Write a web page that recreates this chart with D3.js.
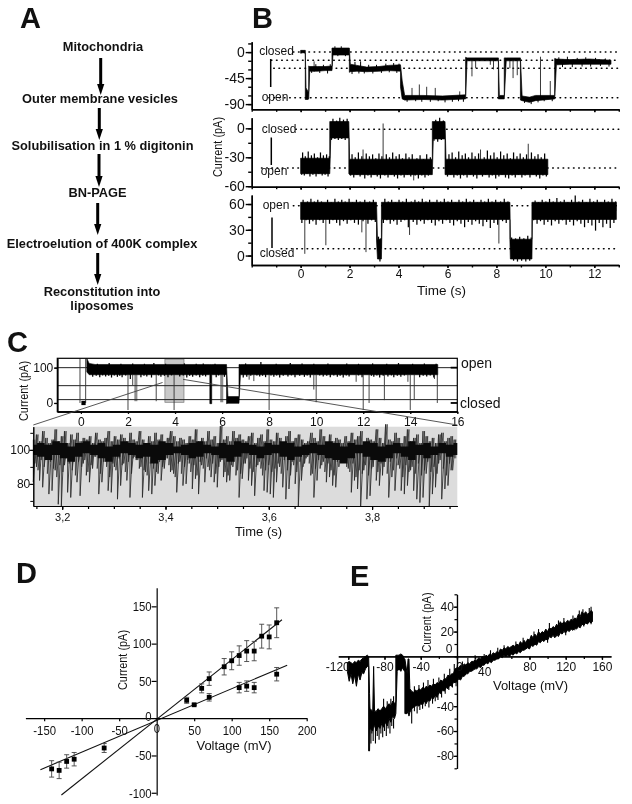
<!DOCTYPE html>
<html>
<head>
<meta charset="utf-8">
<script src="https://cdn.jsdelivr.net/npm/d3@7/dist/d3.min.js"></script>
<style>
  html, body { margin: 0; padding: 0; background: #fff; }
  svg { display: block; filter: blur(0.3px); }
  text { font-family: "Liberation Sans", Arial, sans-serif; fill: #111; }
</style>
</head>
<body>
<script>
// panel A
const steps = ["Mitochondria", "Outer membrane vesicles", "Solubilisation in 1 % digitonin", "BN-PAGE", "Electroelution of 400K complex", "Reconstitution into", "liposomes"];

// panel B, traces are [time, low, high], fuzz is the noise tips as [time, tip]
const b1Trace = [[0,-2,3],[0.1,-1,3],[0.19,-2,3],[0.19,-82,3],[0.22,-82,-62],[0.3,-82,-68],[0.33,-81,-68],[0.33,-81,-24],[0.37,-33,-25],[0.7,-33,-25],[1,-32,-25],[1.28,-32,-24],[1.28,-32,7],[1.32,-5,7],[1.99,-5,7],[1.99,-35,7],[2.03,-34,-21],[2.3,-33,-23],[2.7,-34,-26],[3.2,-33,-25],[3.6,-32,-23],[4.08,-33,-22],[4.08,-60,-22],[4.15,-81,-50],[4.25,-83,-75],[5,-82,-75],[5.8,-83,-76],[6.74,-81,-74],[6.74,-81,-9],[6.8,-15,-10],[8.08,-15,-10],[8.08,-81,-10],[8.12,-81,-75],[8.32,-81,-75],[8.32,-81,-10],[8.4,-15,-10],[8.98,-15,-10],[8.98,-83,-10],[9.05,-84,-76],[9.35,-87,-78],[9.6,-84,-75],[10.38,-81,-75],[10.38,-81,-11],[10.45,-22,-12],[11,-21,-13],[11.8,-21,-12],[12.68,-21,-14]];
const b1Spikes = [[0.55,-34,-16],[4.55,-80,-62],[4.85,-80,-56],[5.15,-80,-60],[5.5,-80,-62],[6.5,-80,-68],[7,-14,-42],[7.15,-14,-28],[7.75,-14,-22],[7.88,-14,-30],[8.55,-13,-28],[8.68,-13,-45],[8.85,-13,-40],[9.8,-80,-8],[10.2,-80,-50]];
const b1Fuzz = [[0.45,-36],[0.62,-21],[0.78,-36],[0.93,-22],[1.1,-37],[1.21,-21],[1.4,10],[1.52,-7],[1.66,10],[1.83,-7],[2.1,-38],[2.22,-17],[2.38,-37],[2.45,-16],[2.6,-37],[2.78,-22],[2.95,-37],[3.1,-22],[3.3,-36],[3.48,-20],[3.62,-35],[3.8,-19],[3.93,-36],[4.02,-20],[4.35,-86],[4.7,-85],[4.95,-86],[5.3,-86],[5.62,-85],[5.9,-87],[6.2,-86],[6.45,-85],[6.65,-86],[9.15,-88],[9.42,-90],[9.7,-87],[9.95,-85],[10.28,-85],[10.55,-9],[10.7,-26],[10.9,-8],[11.1,-26],[11.3,-10],[11.5,-25],[11.65,-9],[11.85,-25],[12.05,-10],[12.25,-24],[12.45,-11],[12.6,-25]];
const b1Levels = [[1.3,-28],[2,1],[4.1,-28],[6.75,-79],[10.4,-80],[13,-17]];
const b1Dots = [0, -14, -28, -79];

const b2Trace = [[0,-47,-31],[1.19,-47,-31],[1.19,-47,7],[1.23,-10,7],[1.97,-10,7],[1.97,-47,7],[2,-48,-32],[5.38,-48,-32],[5.38,-48,7],[5.42,-11,7],[5.9,-11,7],[5.9,-48,7],[5.94,-48,-32],[10.1,-48,-32]];
const b2Spikes = [[3.37,-35,5],[9.3,-40,-16],[2.55,-40,-22],[7.35,-40,-22],[4.62,-44,-54]];
const b2OpenFuzz = [[0.04,-48],[0.08,-25],[0.15,-49],[0.19,-29],[0.26,-47],[0.31,-24],[0.38,-50],[0.44,-28],[0.5,-48],[0.56,-26],[0.63,-50],[0.69,-30],[0.74,-47],[0.81,-25],[0.88,-49],[0.93,-28],[1,-48],[1.06,-27],[1.12,-50],[1.17,-29],[2.04,-49],[2.1,-27],[2.17,-51],[2.23,-30],[2.3,-48],[2.36,-25],[2.43,-50],[2.5,-29],[2.62,-52],[2.68,-26],[2.75,-49],[2.81,-29],[2.88,-51],[2.94,-27],[3,-48],[3.07,-31],[3.13,-50],[3.2,-26],[3.26,-52],[3.32,-29],[3.44,-49],[3.5,-27],[3.57,-51],[3.63,-30],[3.7,-48],[3.76,-25],[3.83,-50],[3.9,-29],[3.96,-52],[4.03,-27],[4.1,-49],[4.16,-31],[4.23,-51],[4.3,-26],[4.36,-48],[4.43,-30],[4.5,-50],[4.56,-27],[4.68,-49],[4.75,-31],[4.81,-52],[4.88,-28],[4.95,-49],[5.02,-32],[5.08,-51],[5.15,-27],[5.22,-49],[5.3,-30],[6,-50],[6.06,-27],[6.13,-48],[6.19,-25],[6.26,-51],[6.33,-30],[6.4,-49],[6.46,-24],[6.53,-52],[6.6,-28],[6.66,-49],[6.73,-26],[6.8,-51],[6.86,-30],[6.93,-48],[7,-25],[7.06,-50],[7.13,-29],[7.2,-52],[7.27,-26],[7.43,-50],[7.5,-30],[7.56,-48],[7.63,-23],[7.7,-51],[7.76,-28],[7.83,-49],[7.9,-25],[7.97,-52],[8.03,-30],[8.1,-50],[8.17,-24],[8.23,-48],[8.3,-28],[8.37,-51],[8.44,-26],[8.5,-52],[8.57,-31],[8.64,-49],[8.7,-25],[8.77,-51],[8.84,-29],[8.9,-48],[8.97,-26],[9.04,-51],[9.1,-30],[9.17,-49],[9.23,-27],[9.37,-51],[9.43,-25],[9.5,-48],[9.57,-29],[9.63,-50],[9.7,-27],[9.77,-52],[9.83,-30],[9.9,-49],[9.97,-26],[10.04,-50]];
const b2ClosedFuzz = [[1.26,-12],[1.32,10],[1.4,-11],[1.47,8],[1.54,-12],[1.6,11],[1.68,-11],[1.75,9],[1.82,-12],[1.9,10],[5.45,-13],[5.52,9],[5.6,-14],[5.68,11],[5.75,-12],[5.83,8]];
const b2Dots = [-1, -41];

const b3Trace = [[0,42,62],[3.1,42,62],[3.1,18,62],[3.14,-4,19],[3.3,-4,19],[3.3,-4,62],[3.33,42,62],[8.55,42,62],[8.55,19,62],[8.57,-4,19],[9.45,-4,19],[9.45,-4,62],[9.47,42,62],[12.9,42,62]];
const b3Spikes = [[0.17,50,2],[1.03,50,12],[2.5,50,27],[2.67,50,4],[4.45,50,24],[8.1,50,14]];
const b3OpenFuzz = [[0.05,38],[0.1,65],[0.22,41],[0.28,63],[0.36,37],[0.42,66],[0.5,40],[0.56,63],[0.63,36],[0.7,65],[0.78,41],[0.85,63],[0.92,38],[1.1,65],[1.18,37],[1.25,62],[1.32,41],[1.4,66],[1.47,38],[1.54,63],[1.6,35],[1.68,65],[1.75,40],[1.82,63],[1.9,37],[1.98,66],[2.05,41],[2.12,62],[2.2,38],[2.28,65],[2.36,36],[2.43,63],[2.55,40],[2.62,65],[2.75,37],[2.82,63],[2.9,41],[2.97,65],[3.05,39],[3.38,38],[3.44,66],[3.52,41],[3.58,63],[3.66,37],[3.72,65],[3.8,40],[3.87,62],[3.94,36],[4.02,65],[4.1,39],[4.17,63],[4.25,41],[4.32,66],[4.4,33],[4.52,63],[4.6,39],[4.67,65],[4.75,36],[4.82,63],[4.9,40],[4.97,66],[5.05,37],[5.12,63],[5.2,41],[5.27,65],[5.35,38],[5.42,62],[5.5,35],[5.57,65],[5.65,40],[5.72,63],[5.8,37],[5.87,66],[5.95,41],[6.02,63],[6.1,38],[6.17,65],[6.25,35],[6.32,62],[6.4,40],[6.47,65],[6.55,37],[6.62,63],[6.7,33],[6.77,66],[6.85,39],[6.92,63],[7,36],[7.07,65],[7.15,40],[7.22,62],[7.3,37],[7.37,65],[7.45,34],[7.52,63],[7.6,39],[7.67,66],[7.75,32],[7.82,63],[7.9,38],[7.97,65],[8.05,36],[8.17,63],[8.25,40],[8.32,66],[8.4,38],[8.47,63],[9.52,41],[9.58,64],[9.66,37],[9.72,62],[9.8,40],[9.87,65],[9.95,36],[10.02,63],[10.1,39],[10.17,66],[10.25,35],[10.32,63],[10.4,40],[10.47,67],[10.55,37],[10.62,63],[10.7,41],[10.77,65],[10.85,36],[10.92,62],[11,39],[11.07,65],[11.15,35],[11.22,70],[11.3,40],[11.37,63],[11.45,37],[11.52,65],[11.6,33],[11.67,62],[11.75,38],[11.82,66],[11.9,35],[11.97,63],[12.05,29],[12.12,65],[12.2,38],[12.27,62],[12.35,33],[12.42,65],[12.5,37],[12.57,63],[12.65,32],[12.72,66],[12.8,38],[12.87,63]];
const b3ClosedFuzz = [[3.18,22],[3.24,-7],[3.28,20],[8.62,21],[8.7,-6],[8.78,20],[8.86,-7],[8.95,22],[9.03,-6],[9.12,20],[9.2,-7],[9.28,23],[9.36,-6],[9.42,21]];
const b3Dots = [58, 8];

// panel C, upper overview
const cTopTrace = [[0.25,88,126],[0.35,80,112],[0.6,80,109],[5.48,80,109],[5.48,-2,109],[5.56,-2,109],[5.56,80,109],[6.19,80,109],[6.19,-2,109],[6.25,-1,18],[6.72,-1,18],[6.72,-1,109],[6.78,80,109],[15.17,80,109]];
const cTopFuzz = [[0.5,74],[0.65,77],[0.8,73],[0.92,78],[1.05,75],[1.18,77],[1.3,72],[1.42,78],[1.55,74],[1.65,77],[1.75,73],[1.9,78],[2.1,68],[2.55,73],[2.68,77],[2.8,75],[3,72],[3.3,78],[3.4,74],[3.55,77],[3.7,73],[3.85,78],[4.2,75],[4.35,78],[4.5,72],[4.62,77],[4.75,74],[4.9,78],[5.05,73],[5.18,77],[5.3,75],[5.75,73],[5.85,78],[6.1,74],[6.9,72],[7.05,74],[7.22,77],[7.48,78],[7.6,75],[7.72,77],[7.85,73],[8.08,78],[8.2,74],[8.32,78],[8.45,72],[8.6,77],[8.8,75],[8.95,78],[9.1,73],[9.3,77],[9.5,74],[9.62,78],[9.75,72],[10.15,78],[10.3,75],[10.45,77],[10.6,73],[10.75,78],[10.9,74],[11.02,77],[11.15,72],[11.28,78],[11.4,75],[11.8,78],[11.95,73],[12.35,77],[12.45,74],[12.58,78],[12.7,72],[12.85,77],[13.05,75],[13.2,78],[13.3,73],[13.45,77],[13.6,74],[13.75,78],[14.4,73],[14.55,77],[14.7,75],[14.85,78],[15,72]];
const cTopTips = [[0.7,111],[1.2,113],[1.7,111],[2.2,112],[2.7,111],[3.1,113],[3.6,111],[4.4,112],[4.9,111],[5.2,112],[5.7,111],[7,112],[7.65,116],[8.3,111],[8.9,113],[9.4,112],[9.9,111],[10.5,112],[11.3,112],[11.8,111],[12.4,112],[13,111],[13.5,113],[14.1,111],[14.6,112],[15.1,111]];
const cTopSpikes = [[-0.04,126,0],[0.2,126,0],[2,80,-20],[2.2,80,50],[3.2,80,5],[3.96,80,-20],[7.15,80,66],[7.35,80,62],[8,80,-20],[9.9,80,38],[10,80,2],[11.7,80,60],[12,80,-20],[12.25,80,0],[12.9,80,8],[13.9,80,60],[14,80,-20],[14.17,80,10],[15.03,80,68],[15.15,80,0]];
const cTopBlock = [[0.02,0.2,-6,6]];
const cGreyBars = [[2.27,2.4,80,5],[5.92,6.05,80,2]];
const cWindow = [3.57, 4.38];
const cGridLines = [100, 49, 9.5];

// panel C, zoomed trace, lower and upper ends of the current in time order
const cLows = [81,90,82,78,94,74,76,88,68,67,91,75,72,93,81,73,92,85,81,89,96,74,81,93,76,75,90,71,79,92,82,72,95,94,89,72,87,76,74,79,86,82,89,95,87,86,75,93,79,80,92,77,83,74,91,81,90,84,81,78,93,84,81,82,90,85,72,83,92,82,79,73,91,89,76,75,74,
  72,81,90,78,71,77,93,80,67,82,92,96,85,72,82,89,93,81,84,79,78,90,93,97,89,75,82,77,67,88,71,73,90,82,79,85,93,72,84,76,91,76,74,79,88,76,71,69,72,86,67,74,78,92,71,77,79,88,95];
// the shallow events that sit between the deep ones
const cMids = [92,88,94,90,86,93,89,84,91,87,95,92,88,85,93,90,94,87,91,96,89,86,93,90,84,92,88,95,91,87,93,86,96,94,90,88,85,92,89,87,93,90,95,91,88,84,92,86,90,94,87,91,85,93,89,95,88,92,86,90,94,87,85,91,93,88,86,92,95,89,87,90,93,85,88,91,87,
  89,92,86,94,88,85,91,87,93,90,95,92,86,89,94,91,87,92,88,85,93,96,94,90,87,92,84,88,86,91,85,89,94,87,92,90,86,93,88,95,89,84,91,87,90,86,92,85,88,93,87,90,86,94,89,85,92,88,95];
const cHighs = [106,109,105,111,107,104,110,106,112,105,108,111,106,104,109,106,110,105,107,112,106,108,104,110,106,109,105,107,111,105,108,106,104,109,107,105,110,106,108,105,111,106,104,108,105,107,110,106,109,104,107,105,111,108,105,107,106,110,104,108,106,112,105,107,109,105,111,106,108,104,107,114,106,108,105,111,107,104,109,106,105,108,110,106,104,107,109,105,112,106,
  108,105,110,107,104,108,106,111,105,107,109,106,104,108,105,110,107,105,112,106,108,104,109,105,107,113,106,104,108,105,110,106,105,108,111,104,107,106,109,105,112,107,104,115,106,108,105,110,107,104,108,106,112,105,107,109,104,111,106,108,105,107,104,109,106,110,105,107,108,106,111];
// solid black centre of the zoomed trace
const cCoreLo = [97,96,94,97,95,93,96,98,97,95,93,96,98,97,95,96,92,94,97,98,97,95,96,98,97,95,93,96,98,97,95,97,98,96,94,96,97,98,97,95,94,92,95,98,96,94,93,95,98,96,94,97,95,97,98,96,97];
const cCoreHi = [103,104,103,105,104,102,104,105,103,104,102,103,105,104,103,104,103,105,104,102,103,104,105,103,102,104,103,105,104,103,102,104,103,105,104,102,103,104,103,105,104,102,104,103,105,104,102,103,104,102,105,103,104,102,104,103,104];

// panel D, mean and error of the two conductance groups
const dUpperV = [40, 60, 70, 90, 100, 110, 120, 130, 140, 150, 160];
const dUpperI = [24, 40, 53, 69, 77, 84, 90, 90, 110, 109, 128];
const dUpperErr = [4, 6, 9, 11, 12, 13, 14, 13, 16, 16, 20];
const dLowerV = [-140, -130, -120, -110, -70, 50, 70, 110, 120, 130, 160];
const dLowerI = [-68, -70, -58, -55, -40, 18, 28, 41, 43, 41, 59];
const dLowerErr = [11, 11, 9, 9, 6, 1, 5, 7, 7, 7, 9];
const dFitUpper = [[-127, -103], [167, 132]];
const dFitLower = [[-155, -69], [174, 71]];

// panel E, voltage ramp as [voltage, low, high], spikes as [voltage, base, tip]
const eTrace = [[-121,-12,-5],[-119,-20,-4],[-117,-14,-5],[-115,-22,-6],[-113,-15,-4],[-111,-24,-5],[-109,-14,-3],[-107,-19,-4],[-105,-13,-2],[-103,-14,-1],[-101,-10,0],[-99,-8,1],[-97.5,-8,0],[-97.5,-76,0],[-96.5,-76,-30],[-96,-58,-42],[-93,-60,-44],[-92,-55,-8],[-91,-56,-44],[-89,-60,-44],[-87,-56,-42],[-85,-58,-44],[-83,-54,-42],[-81,-57,-40],[-79,-53,-42],[-77,-56,-40],[-75,-50,-38],[-73,-53,-40],[-71,-48,-36],[-69,-50,-38],[-67.5,-46,-36],[-67.5,-46,1],[-66,-12,1],[-64,-10,1],[-62,-12,2],[-60,-9,1],[-58,-12,-2],[-57.5,-12,-2],[-57.5,-46,-2],[-55,-46,-14],[-54,-44,-2],[-53,-48,-2],[-52,-45,-26],[-50,-42,-28],[-48,-41,-29],[-46,-40,-27],[-44,-39,-28],[-42,-40,-26],[-40,-38,-27],[-38,-39,-25],[-36,-36,-26],[-34,-38,-24],[-32,-35,-25],[-30,-36,-23],[-28,-33,-24],[-26,-34,-22],[-24,-31,-23],[-22,-33,-21],[-20,-29,-22],[-18,-30,-19],[-16,-27,-20],[-14,-28,-18],[-12,-25,-18],[-10,-26,-15],[-8,-23,-16],[-6,-24,-14],[-4,-21,-14],[-2,-21,-10],[0,-20,-9],[2,-18,-9],[4,-19,-7],[6,-16,-8],[8,-16,-6],[10,-14,-7],[12,-14,-5],[14,-12,-6],[16,-12,-4],[18,-11,-4],[20,-10,-3],[22,-10,-3],[24,-8,-1],[26,-9,-2],[28,-7,0],[30,-7,-1],[32,-5,1],[34,-6,0],[36,-4,2],[38,-5,1],[40,-3,3],[42,-3,2],[44,-2,4],[46,-2,3],[48,0,6],[50,-1,5],[52,1,7],[54,0,6],[56,1,8],[58,0,7],[60,2,8],[62,1,9],[64,3,8],[66,2,10],[68,4,9],[70,3,12],[72,5,10],[74,5,13],[76,6,11],[78,7,14],[80,6,13],[82,9,17],[84,8,15],[86,10,18],[88,9,16],[90,12,20],[92,11,18],[94,13,20],[96,12,19],[98,14,22],[100,13,20],[102,16,23],[104,15,22],[106,17,24],[108,15,23],[110,18,26],[112,16,24],[114,19,28],[116,18,26],[118,20,28],[120,19,27],[122,21,29],[124,20,28],[126,22,30],[128,21,29],[130,23,31],[132,22,30],[134,24,34],[136,23,32],[138,26,36],[140,25,34],[142,27,36],[144,26,34],[146,28,35],[148,27,37],[149.5,28,36]];
const eSpikes = [[-95,-50,-70],[-94,-50,-62],[-92.5,-50,-68],[-90,-50,-70],[-88,-50,-64],[-86,-50,-67],[-84,-50,-62],[-82,-50,-65],[-80,-50,-60],[-78,-50,-64],[-76,-50,-58],[-74,-50,-62],[-72,-50,-56],[-70,-50,-58],[-81,-45,-34],[-77,-45,-36],[-73,-45,-34],[-70,-45,-32],[-50,-36,-54],[-47,-36,-44],[-44,-34,-46],[-41,-34,-43],[-38,-32,-42],[-35,-32,-40],[-31,-30,-41],[-27,-28,-38],[-24,-28,-36],[-21,-26,-35],[-17,-24,-33],[-13,-22,-30],[-9,-20,-27],[-5,-18,-25],[-1,-15,-24],[-47,-36,-24],[-42,-32,-23],[-37,-30,-21],[-32,-30,-19],[-26,-28,-18],[-20,-26,-17],[-14,-22,-14],[-8,-20,-10],[-3,-15,-6],[6,-11,-4],[12,-9,-1],[20,-6,1],[30,-3,2],[37,-1,5],[45,1,7],[52,4,9],[65,6,12],[73,8,15],[85,13,20],[90,16,22],[102,19,27],[112,20,29],[118,24,31],[128,25,33],[135,28,37],[139,30,38],[146,31,39],[148,32,40],[100,16,11],[110,22,16],[120,23,17],[130,27,21],[140,30,24],[148,32,26]];

const W = 632, H = 804;
const svg = d3.select("body").append("svg").attr("width", W).attr("height", H);

// the reference uses a condensed sans, squeeze the glyphs to get it
function squeeze(sel, k) {
    sel.each(function () {
        d3.select(this).attr("textLength", this.getComputedTextLength() * k).attr("lengthAdjust", "spacingAndGlyphs");
    });
}

function label(g, x, y, txt, size, opts = {}) {
    const t = g.append("text").attr("x", x).attr("y", y).text(txt)
        .attr("font-size", size)
        .attr("text-anchor", opts.anchor || "middle")
        .attr("dominant-baseline", "middle")
        .attr("font-weight", opts.bold ? "bold" : null)
        .attr("transform", opts.rotate ? "rotate(-90 " + x + " " + y + ")" : null);
    if (opts.narrow) squeeze(t, 0.84);
    return t;
}

function panelLetter(txt, x, y) {
    svg.append("text").attr("x", x).attr("y", y).text(txt)
        .attr("font-size", 29).attr("font-weight", "bold");
}

function styleAxis(g, w, size, narrow) {
    g.selectAll("path, line").attr("stroke", "#000").attr("stroke-width", w);
    const t = g.selectAll("text").attr("font-size", size).attr("fill", "#111")
        .style("font-family", '"Liberation Sans", sans-serif');
    if (narrow) squeeze(t, 0.84);
    return g;
}

// draws an axis with long labelled ticks and a second pass of short ticks
function addAxis(g, axisFn, scale, at, major, minor, lenMajor, lenMinor, w, size) {
    const a = g.append("g").attr("transform", at);
    a.call(axisFn(scale).tickValues(minor).tickSize(lenMinor).tickSizeOuter(0).tickFormat(""));
    styleAxis(a, w, size);
    const b = g.append("g").attr("transform", at);
    b.call(axisFn(scale).tickValues(major).tickSize(lenMajor).tickSizeOuter(0).tickFormat(d => String(d)));
    return styleAxis(b, w, size);
}

function drawTrace(g, rows, x, y, sw) {
    const area = d3.area().x(d => x(d[0])).y0(d => y(d[1])).y1(d => y(d[2]));
    g.append("path").datum(rows).attr("d", area)
        .attr("fill", "#000").attr("stroke", "#000").attr("stroke-width", sw || 0.7);
}

function drawSpikes(g, spikes, x, y, colour, sw) {
    g.selectAll(null).data(spikes).join("line")
        .attr("x1", d => x(d[0])).attr("x2", d => x(d[0]))
        .attr("y1", d => y(d[1])).attr("y2", d => y(d[2]))
        .attr("stroke", colour || "#222").attr("stroke-width", sw || 0.9);
}

// noise tips grow out of the level they belong to
function drawFuzz(g, tips, base, x, y) {
    drawSpikes(g, tips.map(d => [d[0], base, d[1]]), x, y, "#000", 1.25);
}

function drawDots(g, levels, x, y, from) {
    g.selectAll(null).data(levels).join("line")
        .attr("x1", (d, i) => x(from[i])).attr("x2", x(13))
        .attr("y1", d => y(d)).attr("y2", d => y(d))
        .attr("stroke", "#000").attr("stroke-width", 1.5)
        .attr("stroke-linecap", "round").attr("stroke-dasharray", "0.6 4.6");
}

// ---- A ----
panelLetter("A", 20, 28);
const gA = svg.append("g");
const stepX = [103, 100, 102.5, 97.5, 102, 102, 102];
const stepY = [47.5, 100, 146.5, 194, 245, 293, 307];
steps.forEach((s, i) => label(gA, stepX[i], stepY[i], s, 12.8, {bold: true}));
const arrowX = [100.7, 99.3, 99, 97.7, 97.7];
const arrowY = [[58, 95], [108, 140], [154, 187], [203, 235], [253, 285]];
arrowX.forEach((ax, i) => {
    gA.append("line").attr("x1", ax).attr("x2", ax).attr("y1", arrowY[i][0]).attr("y2", arrowY[i][1] - 8)
        .attr("stroke", "#000").attr("stroke-width", 3);
    gA.append("path")
        .attr("d", d3.line()([[ax - 3.6, arrowY[i][1] - 11], [ax + 3.6, arrowY[i][1] - 11], [ax, arrowY[i][1]]]) + "Z")
        .attr("fill", "#000");
});

// ---- B ----
panelLetter("B", 252, 28);
const gB = svg.append("g");
const bX = d3.scaleLinear().domain([-2, 13]).range([251.7, 618.8]);
const bSeconds = d3.range(-2, 14);
const bLabelled = d3.range(0, 13, 2);

const bPanels = [
    {dom: [-99, 18], rng: [109.3, 41.7], ticks: [0, -45, -90], minor: d3.range(-90, 16, 15), rows: b1Trace, spikes: b1Spikes, dots: b1Dots, from: [-0.3, -1.2, -1.1, -1.3], showX: false},
    {dom: [-60.5, 11], rng: [186.7, 117.7], ticks: [0, -30, -60], minor: d3.range(-60, 11, 15), rows: b2Trace, spikes: b2Spikes, dots: b2Dots, from: [-0.2, -1.6], showX: false},
    {dom: [-11, 70.5], rng: [265, 195], ticks: [0, 30, 60], minor: d3.range(0, 70, 15), rows: b3Trace, spikes: b3Spikes, dots: b3Dots, from: [-0.3, -0.8], showX: true}
];
bPanels.forEach((p, n) => {
    const y = d3.scaleLinear().domain(p.dom).range(p.rng);
    drawDots(gB, p.dots, bX, y, p.from);
    drawSpikes(gB, p.spikes, bX, y);
    if (n === 0) {
        // panel one sits on several levels, each tip goes back to its own level
        const levelOf = t => b1Levels.find(l => t < l[0])[1];
        drawSpikes(gB, b1Fuzz.map(d => [d[0], levelOf(d[0]), d[1]]), bX, y, "#000", 1);
    }
    if (n === 1) { drawFuzz(gB, b2OpenFuzz, -40, bX, y); drawFuzz(gB, b2ClosedFuzz, -2, bX, y); }
    if (n === 2) { drawFuzz(gB, b3OpenFuzz, 52, bX, y); drawFuzz(gB, b3ClosedFuzz, 8, bX, y); }
    drawTrace(gB, p.rows, bX, y);
    const left = addAxis(gB, d3.axisLeft, y, "translate(251.7,0)", p.ticks, p.minor, 6, 3.5, 1.4, 14);
    left.selectAll("text").attr("x", -7);
    const bottom = addAxis(gB, d3.axisBottom, bX, "translate(0," + p.rng[0] + ")", bLabelled, bSeconds, 3, 2.5, 1.4, 12);
    if (!p.showX) bottom.selectAll("text").remove();
    else bottom.selectAll("text").attr("y", 4.5);
});
label(gB, 276.5, 51.5, "closed", 12);
label(gB, 275, 97.5, "open", 12);
label(gB, 279, 129.5, "closed", 12);
label(gB, 274, 172, "open", 12);
label(gB, 276, 205.5, "open", 12);
label(gB, 277, 254, "closed", 12);
[[270.7, 59, 87], [271.3, 137.5, 165], [272, 217.5, 248]].forEach(b => {
    gB.append("line").attr("x1", b[0]).attr("x2", b[0]).attr("y1", b[1]).attr("y2", b[2])
        .attr("stroke", "#000").attr("stroke-width", 1.5);
});
label(gB, 218.5, 147, "Current (pA)", 13, {rotate: true, narrow: true});
label(gB, 441.5, 291, "Time (s)", 13.5);

// ---- C ----
panelLetter("C", 7, 352);
const gC = svg.append("g");
const topX = d3.scaleLinear().domain([-1.005, 16]).range([57.3, 457.3]);
const topY = d3.scaleLinear().domain([-24.7, 126.5]).range([411.7, 358.3]);
const zoomX = d3.scaleLinear().domain([3.144, 3.965]).range([33.3, 457.3]);
const zoomY = d3.scaleLinear().domain([67, 113.6]).range([506, 426.7]);

// grey area and box of the overview
gC.append("rect")
    .attr("x", topX(cWindow[0])).attr("width", topX(cWindow[1]) - topX(cWindow[0]))
    .attr("y", topY(124)).attr("height", topY(2) - topY(124))
    .attr("fill", "#c9c9c9").attr("stroke", "#777").attr("stroke-width", 0.7);
cGreyBars.forEach(b => {
    gC.append("rect").attr("x", topX(b[0])).attr("width", topX(b[1]) - topX(b[0]))
        .attr("y", topY(b[2])).attr("height", topY(b[3]) - topY(b[2]))
        .attr("fill", "#8e8e8e");
});
gC.selectAll(null).data(cGridLines).join("line")
    .attr("x1", topX.range()[0]).attr("x2", topX.range()[1])
    .attr("y1", d => topY(d)).attr("y2", d => topY(d))
    .attr("stroke", "#222").attr("stroke-width", 1);
drawSpikes(gC, cTopSpikes, topX, topY, "#333");
gC.selectAll(null).data(cTopBlock).join("rect")
    .attr("x", d => topX(d[0])).attr("width", d => topX(d[1]) - topX(d[0]))
    .attr("y", d => topY(d[3])).attr("height", d => topY(d[2]) - topY(d[3]))
    .attr("fill", "#000");
drawFuzz(gC, cTopFuzz, 90, topX, topY);
drawFuzz(gC, cTopTips, 100, topX, topY);
drawTrace(gC, cTopTrace, topX, topY, 0.6);
gC.append("rect").attr("x", 57.3).attr("y", 358.3).attr("width", 400).attr("height", 53.4)
    .attr("fill", "none").attr("stroke", "#000").attr("stroke-width", 1.2);
const cTopLeft = addAxis(gC, d3.axisLeft, topY, "translate(57.3,0)", [0, 100], [0, 100], 3, 3, 1.2, 12);
cTopLeft.selectAll("text").attr("x", -4);
const cTopBottom = addAxis(gC, d3.axisBottom, topX, "translate(0,411.7)", d3.range(0, 17, 2), d3.range(0, 17, 2), 2, 2, 1.2, 12);
cTopBottom.selectAll("text").attr("y", 6);
[100, 0].forEach(v => {
    gC.append("line").attr("x1", 450.7).attr("x2", 457.3).attr("y1", topY(v)).attr("y2", topY(v))
        .attr("stroke", "#000").attr("stroke-width", 1.8);
});
label(gC, 461, 364, "open", 14, {anchor: "start"});
label(gC, 460, 404.5, "closed", 14, {anchor: "start"});
label(gC, 24.5, 391, "Current (pA)", 13, {rotate: true, narrow: true});

// zoomed trace
gC.append("rect").attr("x", 33.3).attr("y", 426.7).attr("width", 424).attr("height", 79.3).attr("fill", "#dcdcdc");
const zoomStart = zoomX.domain()[0], zoomSpan = zoomX.domain()[1] - zoomX.domain()[0];
function zigzagOf(lows, offset) {
    const pts = [];
    lows.forEach((lo, i) => {
        const t = zoomStart + zoomSpan * (i + offset) / lows.length;
        const hi = cHighs[Math.floor(i / lows.length * cHighs.length)];
        pts.push([t, hi], [t, lo]);
    });
    return pts;
}
const zigzagLine = d3.line().x(d => zoomX(d[0])).y(d => zoomY(d[1]));
gC.append("path").datum(zigzagOf(cMids, 0.5)).attr("d", zigzagLine)
    .attr("fill", "none").attr("stroke", "#333").attr("stroke-width", 0.8);
gC.append("path").datum(zigzagOf(cLows, 0)).attr("d", zigzagLine)
    .attr("fill", "none").attr("stroke", "#222").attr("stroke-width", 0.8);
const coreRows = cCoreLo.map((lo, i) => [zoomStart + zoomSpan * i / (cCoreLo.length - 1), lo, cCoreHi[i]]);
gC.append("path").datum(coreRows)
    .attr("d", d3.area().curve(d3.curveStep).x(d => zoomX(d[0])).y0(d => zoomY(d[1])).y1(d => zoomY(d[2])))
    .attr("fill", "#0a0a0a");
const cLeft = addAxis(gC, d3.axisLeft, zoomY, "translate(33.3,0)", [80, 100], [70, 80, 90, 100, 110], 4, 3, 1, 12);
cLeft.selectAll("text").attr("x", -3);
const cBottom = addAxis(gC, d3.axisBottom, zoomX, "translate(0,506)", [3.2, 3.4, 3.6, 3.8], d3.range(3.15, 3.96, 0.05), 4, 3, 1.2, 11);
cBottom.selectAll("text").text(d => d3.format(".1f")(d).replace(".", ",")).attr("y", 7);
label(gC, 258.5, 532.5, "Time (s)", 13);
// connector lines from the grey window to the zoomed trace
gC.append("path").attr("d", d3.line()([[zoomX.range()[0], zoomY(114.6)], [topX(3.47), topY(58)]]))
    .attr("stroke", "#444").attr("stroke-width", 0.9).attr("fill", "none");
gC.append("path").attr("d", d3.line()([[topX(4.34), topY(67)], [zoomX.range()[1], zoomY(114.6)]]))
    .attr("stroke", "#444").attr("stroke-width", 0.9).attr("fill", "none");

// ---- D ----
panelLetter("D", 16, 583);
const gD = svg.append("g");
const dX = d3.scaleLinear().domain([-175, 200]).range([25.4, 306.7]);
const dY = d3.scaleLinear().domain([-103, 175]).range([795, 587.7]);
const dFit = d3.line().x(d => dX(d[0])).y(d => dY(d[1]));
[dFitUpper, dFitLower].forEach(f => {
    gD.append("path").datum(f).attr("d", dFit).attr("stroke", "#111").attr("stroke-width", 1.1).attr("fill", "none");
});
const dAxisX = gD.append("g").attr("transform", "translate(0," + dY(0) + ")")
    .call(d3.axisBottom(dX).tickValues([-150, -100, -50, 50, 100, 150, 200]).tickSize(3).tickSizeOuter(0).tickFormat(d => String(d)));
styleAxis(dAxisX, 1.2, 13.5, true);
dAxisX.selectAll("text").attr("y", 7);
const dAxisY = gD.append("g").attr("transform", "translate(" + dX(0) + ",0)")
    .call(d3.axisLeft(dY).tickValues([-100, -50, 50, 100, 150]).tickSize(5).tickSizeOuter(0).tickFormat(d => String(d)));
styleAxis(dAxisY, 1.2, 13.5, true);
dAxisY.selectAll("text").attr("x", -5);
label(gD, 148.5, 717.5, "0", 13.5, {narrow: true});
label(gD, 157, 729.5, "0", 13.5, {narrow: true});
[[dUpperV, dUpperI, dUpperErr], [dLowerV, dLowerI, dLowerErr]].forEach(group => {
    group[0].forEach((v, i) => {
        const cx = dX(v), lo = dY(group[1][i] - group[2][i]), hi = dY(group[1][i] + group[2][i]);
        gD.append("path")
            .attr("d", "M" + cx + "," + lo + "V" + hi + "M" + (cx - 2.5) + "," + lo + "H" + (cx + 2.5) + "M" + (cx - 2.5) + "," + hi + "H" + (cx + 2.5))
            .attr("stroke", "#444").attr("stroke-width", 0.9).attr("fill", "none");
        gD.append("rect").attr("x", cx - 2.4).attr("y", dY(group[1][i]) - 2.4).attr("width", 4.8).attr("height", 4.8)
            .attr("fill", "#000");
    });
});
label(gD, 124, 660, "Current (pA)", 13, {rotate: true, narrow: true});
label(gD, 234, 747, "Voltage (mV)", 13);

// ---- E ----
panelLetter("E", 350, 586);
const gE = svg.append("g");
const eX = d3.scaleLinear().domain([-131, 170]).range([338.3, 611]);
const eY = d3.scaleLinear().domain([-90, 50]).range([768.3, 594.3]);
drawSpikes(gE, eSpikes, eX, eY, "#000", 1.1);
drawTrace(gE, eTrace, eX, eY, 1);
const eAxisX = addAxis(gE, d3.axisBottom, eX, "translate(0," + eY(0) + ")", [-120, -80, -40, 0, 40, 80, 120, 160], d3.range(-120, 170, 20), 3.5, 2.5, 1.3, 12);
eAxisX.selectAll("text").attr("y", 6).attr("dy", "0.75em")
    .attr("dx", d => (d === 40 ? -9 : d === -120 ? -11 : d === 0 ? 2 : 0));
eAxisX.selectAll(".tick").filter(d => d === 40).select("text").attr("y", 11);
const eAxisY = addAxis(gE, d3.axisLeft, eY, "translate(" + eX(0) + ",0)", [-80, -60, -40, 20, 40], d3.range(-90, 51, 10), 3.5, 2.5, 1.2, 12);
eAxisY.selectAll("text").attr("x", -3);
label(gE, 449, 650, "0", 12);
label(gE, 428, 622.5, "Current (pA)", 13, {rotate: true, narrow: true});
label(gE, 530.5, 687, "Voltage (mV)", 13);
</script>
</body>
</html>
